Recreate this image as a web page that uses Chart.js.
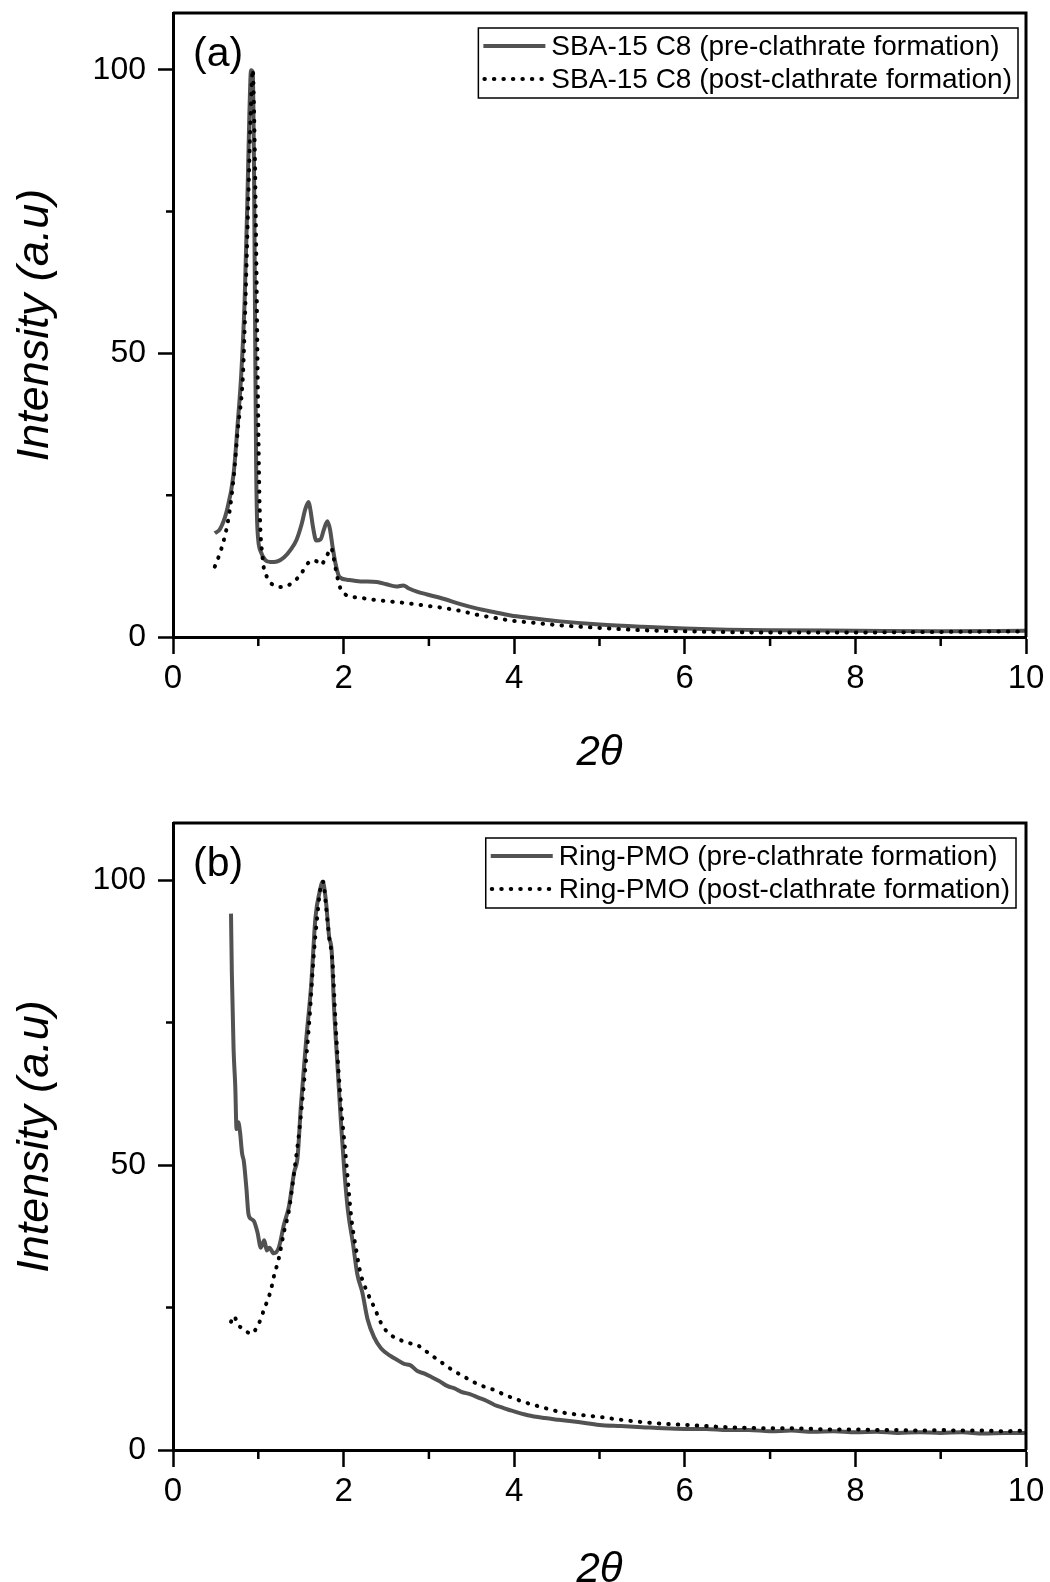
<!DOCTYPE html>
<html>
<head>
<meta charset="utf-8">
<script src="https://cdn.jsdelivr.net/npm/chart.js@4.4.1/dist/chart.umd.min.js"></script>
<style>
  html, body { margin: 0; padding: 0; background: #fff; overflow: hidden; }
  .panel { position: absolute; left: 0; width: 1050px; height: 791px; }
  #panelA { top: 0; }
  #panelB { top: 791px; }
</style>
</head>
<body>
<div class="panel" id="panelA"><canvas id="chartA"></canvas></div>
<div class="panel" id="panelB"><canvas id="chartB"></canvas></div>
<script>
// axis ticks
const xTicks = [0, 2, 4, 6, 8, 10];
const xMinor = [1, 3, 5, 7, 9];
const yTicks = [0, 50, 100];
const yMinor = [25, 75];

// (a) SBA-15 C8
const sbaPreX = [0.49, 0.55, 0.63, 0.71, 0.76, 0.80, 0.84, 0.87, 0.895, 0.915, 0.935, 0.95, 0.962, 0.975, 0.99,
  1.03, 1.08, 1.14, 1.22, 1.30, 1.38, 1.45, 1.51, 1.55, 1.59, 1.61, 1.64, 1.68, 1.73, 1.77, 1.81, 1.84, 1.87,
  1.91, 1.95, 2.04, 2.2, 2.39, 2.5, 2.62, 2.7, 2.76, 2.86, 2.98, 3.18, 3.37, 3.57, 3.76, 3.96, 4.16, 4.51,
  5.0, 5.5, 6.0, 6.5, 7.0, 8.0, 9.0, 10.0];
const sbaPreY = [18.3, 19.0, 22.2, 28.7, 37.9, 46.3, 59.4, 75.7, 92, 99.9, 99.5, 82, 56, 30, 19,
  15, 13.6, 13.2, 13.3, 14.0, 15.4, 17.2, 20.0, 22.5, 23.8, 22.5, 19.5, 17.0, 17.2, 19.0, 20.4, 19.0, 16.0,
  12.6, 10.6, 10.1, 9.8, 9.7, 9.3, 8.9, 9.1, 8.6, 8.0, 7.5, 6.7, 5.8, 5.0, 4.4, 3.8, 3.4, 2.8,
  2.2, 1.8, 1.5, 1.3, 1.2, 1.1, 1.0, 1.1];

const sbaPostX = [0.49, 0.57, 0.65, 0.71, 0.76, 0.82, 0.85, 0.88, 0.91, 0.935, 0.955, 0.975, 0.995, 1.015,
  1.05, 1.1, 1.17, 1.26, 1.35, 1.42, 1.5, 1.57, 1.63, 1.69, 1.73, 1.78, 1.82, 1.855, 1.88, 1.91, 1.95, 2.01,
  2.2, 2.39, 2.59, 2.78, 2.98, 3.18, 3.37, 3.57, 3.76, 3.96, 4.16, 4.51, 5.0, 5.5, 6.0, 7.0, 8.0, 9.0, 10.0];
const sbaPostY = [12.4, 15.7, 20.9, 28, 36.6, 46.3, 59.4, 75.7, 92, 100, 89, 69, 43, 23.5,
  14, 10.6, 9.2, 8.8, 9.1, 9.8, 11.1, 12.8, 13.5, 13.3, 12.7, 13.6, 14.8, 15.7, 14.2, 11.8, 9.1, 7.6,
  6.9, 6.5, 6.2, 5.9, 5.5, 5.1, 4.6, 3.9, 3.4, 2.9, 2.6, 2.1, 1.6, 1.2, 1.0, 0.8, 0.8, 0.9, 1.0];

// (b) Ring-PMO
const ringPreX = [0.68, 0.69, 0.71, 0.73, 0.745, 0.765, 0.785, 0.81, 0.83, 0.86, 0.885, 0.92, 0.95, 0.99,
  1.03, 1.07, 1.10, 1.13, 1.18, 1.24, 1.30, 1.36, 1.42, 1.46, 1.50, 1.56, 1.62, 1.67, 1.72, 1.755, 1.79,
  1.83, 1.86, 1.89, 1.93, 1.97, 2.01, 2.05, 2.11, 2.16, 2.22, 2.28, 2.36, 2.44, 2.56, 2.63, 2.71, 2.78,
  2.87, 2.95, 3.03, 3.12, 3.22, 3.30, 3.38, 3.48, 3.58, 3.68, 3.77, 3.87, 3.97, 4.16, 4.36, 4.52, 4.75,
  5.0, 5.25, 5.5, 5.75, 6.0, 6.25, 6.5, 6.75, 7.0, 7.25, 7.5, 7.75, 8.0, 8.25, 8.5, 8.75, 9.0, 9.25, 9.5,
  9.75, 10.0];
const ringPreY = [94.1, 83.6, 70.4, 63.8, 56.3, 57.5, 55.9, 52, 50.7, 46, 41.4, 40.5, 40.1, 38.2,
  35.5, 36.8, 35.0, 35.5, 34.5, 35.5, 39.5, 42.8, 48.7, 51.3, 60.5, 71.7, 81.6, 93.4, 98, 99.7, 96.7,
  90.1, 87.5, 77, 67.1, 57.2, 48.7, 42.1, 36.2, 30.9, 27.6, 23, 19.7, 17.8, 16.4, 15.8, 15.1, 14.9,
  13.8, 13.4, 12.8, 12.1, 11.2, 10.8, 10.2, 9.8, 9.2, 8.6, 7.9, 7.4, 6.9, 6.1, 5.6, 5.3, 4.9,
  4.4, 4.2, 4.0, 3.8, 3.7, 3.7, 3.5, 3.5, 3.3, 3.4, 3.2, 3.3, 3.1, 3.2, 3.0, 3.1, 3.0, 3.1, 2.9,
  3.0, 3.0];

const ringPostX = [0.68, 0.715, 0.76, 0.82, 0.88, 0.93, 0.98, 1.03, 1.07, 1.11, 1.15, 1.18, 1.24, 1.30,
  1.36, 1.42, 1.48, 1.54, 1.60, 1.65, 1.69, 1.73, 1.76, 1.79, 1.83, 1.87, 1.91, 1.97, 2.03, 2.09, 2.15,
  2.20, 2.28, 2.36, 2.46, 2.60, 2.68, 2.75, 2.82, 2.87, 2.93, 2.99, 3.05, 3.11, 3.2, 3.30, 3.42, 3.54,
  3.65, 3.77, 3.87, 3.97, 4.06, 4.16, 4.28, 4.40, 4.56, 4.75, 5.0, 5.25, 5.5, 5.75, 6.0, 6.25, 6.5, 6.75,
  7.0, 7.25, 7.5, 7.75, 8.0, 8.25, 8.5, 8.75, 9.0, 9.25, 9.5, 9.75, 10.0];
const ringPostY = [22.5, 23.5, 22.0, 21.3, 20.6, 20.4, 21.5, 23, 24.8, 26.3, 28.2, 30.3, 33.6, 38.2,
  42.1, 48.7, 55.9, 65.1, 75.7, 86.8, 93.4, 98.7, 99.7, 96, 90.1, 85.5, 73.7, 60.5, 50.7, 40.8, 34.9,
  30.9, 27.6, 25, 21.7, 19.7, 19.2, 18.8, 18.6, 18.4, 17.6, 17.1, 16.4, 15.8, 14.8, 13.8, 12.8, 11.8,
  11.1, 10.5, 9.8, 9.2, 8.7, 8.2, 7.7, 7.2, 6.6, 6.2, 5.8, 5.3, 4.9, 4.6, 4.4, 4.2, 4.0, 3.9,
  3.8, 3.8, 3.7, 3.6, 3.6, 3.5, 3.5, 3.4, 3.5, 3.4, 3.4, 3.3, 3.4];

const legendA = ['SBA-15 C8 (pre-clathrate formation)', 'SBA-15 C8 (post-clathrate formation)'];
const legendB = ['Ring-PMO (pre-clathrate formation)', 'Ring-PMO (post-clathrate formation)'];

const FONT = '"Liberation Sans", Arial, sans-serif';
const SOLID = '#525252';

function points(xs, ys) {
  return xs.map((x, i) => ({ x: x, y: ys[i] }));
}

// frame, minor ticks, panel letter and legend
const decor = {
  id: 'decor',
  afterDraw(chart, args, opts) {
    const ctx = chart.ctx;
    const a = chart.chartArea;
    const xs = chart.scales.x, ys = chart.scales.y;
    ctx.save();
    ctx.strokeStyle = '#000';
    ctx.lineWidth = 3;
    ctx.beginPath();
    ctx.moveTo(a.left, a.top);
    ctx.lineTo(a.right, a.top);
    ctx.lineTo(a.right, a.bottom);
    ctx.stroke();

    ctx.lineWidth = 2.5;
    ctx.beginPath();
    xMinor.forEach(v => {
      const px = xs.getPixelForValue(v);
      ctx.moveTo(px, a.bottom);
      ctx.lineTo(px, a.bottom + 9);
    });
    yMinor.forEach(v => {
      const py = ys.getPixelForValue(v);
      ctx.moveTo(a.left, py);
      ctx.lineTo(a.left - 7, py);
    });
    ctx.stroke();

    ctx.fillStyle = '#000';
    ctx.font = '41px ' + FONT;
    ctx.textBaseline = 'middle';
    ctx.textAlign = 'left';
    ctx.fillText(opts.letter, a.left + 20, a.top + 42);

    // legend
    ctx.font = '28px ' + FONT;
    const tw = Math.max(...opts.labels.map(t => ctx.measureText(t).width));
    const w = 73 + tw + 6, h = 70;
    const right = a.right - opts.gap;
    const left = right - w, top = a.top + 15;
    ctx.fillStyle = '#fff';
    ctx.fillRect(left, top, w, h);
    ctx.lineWidth = 1.5;
    ctx.strokeRect(left, top, w, h);
    const rows = [top + 18, top + 51];

    ctx.lineWidth = 4;
    ctx.strokeStyle = SOLID;
    ctx.beginPath();
    ctx.moveTo(left + 5, rows[0]);
    ctx.lineTo(left + 67, rows[0]);
    ctx.stroke();

    ctx.strokeStyle = '#000';
    ctx.lineWidth = 4;
    ctx.lineCap = 'round';
    ctx.setLineDash([0.5, 9]);
    ctx.beginPath();
    ctx.moveTo(left + 6, rows[1]);
    ctx.lineTo(left + 66, rows[1]);
    ctx.stroke();
    ctx.setLineDash([]);

    ctx.fillStyle = '#000';
    opts.labels.forEach((t, i) => ctx.fillText(t, left + 73, rows[i] + 1));
    ctx.restore();
  }
};

function makePanel(id, pre, post, labels, letter, top, bottom, gap, titlePad) {
  return new Chart(document.getElementById(id), {
    type: 'line',
    data: {
      datasets: [{
        label: labels[1],
        data: post,
        borderColor: '#000',
        borderWidth: 4,
        borderDash: [0.5, 9],
        borderCapStyle: 'round',
        pointRadius: 0,
        fill: false,
        order: 0
      }, {
        label: labels[0],
        data: pre,
        borderColor: SOLID,
        borderWidth: 4,
        pointRadius: 0,
        fill: false,
        order: 1
      }]
    },
    options: {
      responsive: true,
      maintainAspectRatio: false,
      animation: false,
      layout: { padding: { top: top, right: 24, left: 0, bottom: 0 } },
      elements: { line: { tension: 0, cubicInterpolationMode: 'monotone' } },
      scales: {
        x: {
          type: 'linear',
          min: 0,
          max: 10,
          afterBuildTicks: s => { s.ticks = xTicks.map(v => ({ value: v })); },
          afterFit: s => { s.height = 791 - bottom; s.paddingLeft = 0; s.paddingRight = 0; },
          ticks: { color: '#000', font: { family: FONT, size: 33 }, padding: 5, maxRotation: 0 },
          grid: { drawOnChartArea: false, drawTicks: true, tickLength: 17, tickWidth: 2.5, color: '#000' },
          border: { display: true, width: 3, color: '#000' },
          title: {
            display: true,
            text: '2θ',
            color: '#000',
            font: { family: FONT, size: 42, style: 'italic' },
            padding: { top: 0, bottom: titlePad }
          }
        },
        y: {
          min: 0,
          max: 110,
          afterBuildTicks: s => { s.ticks = yTicks.map(v => ({ value: v })); },
          afterFit: s => { s.width = 173; s.paddingTop = 0; s.paddingBottom = 0; },
          ticks: { color: '#000', font: { family: FONT, size: 32 }, padding: 12 },
          grid: { drawOnChartArea: false, drawTicks: true, tickLength: 15, tickWidth: 2.5, color: '#000' },
          border: { display: true, width: 3, color: '#000' },
          title: {
            display: true,
            text: 'Intensity (a.u)',
            color: '#000',
            font: { family: FONT, size: 45, style: 'italic' },
            padding: { top: 8, bottom: 0 }
          }
        }
      },
      plugins: {
        legend: { display: false },
        tooltip: { enabled: false },
        decor: { letter: letter, labels: labels, gap: gap }
      }
    },
    plugins: [decor]
  });
}

makePanel('chartA', points(sbaPreX, sbaPreY), points(sbaPostX, sbaPostY), legendA, '(a)', 13, 637, 8, 12);
makePanel('chartB', points(ringPreX, ringPreY), points(ringPostX, ringPostY), legendB, '(b)', 32, 659, 10, -14);
</script>
</body>
</html>
